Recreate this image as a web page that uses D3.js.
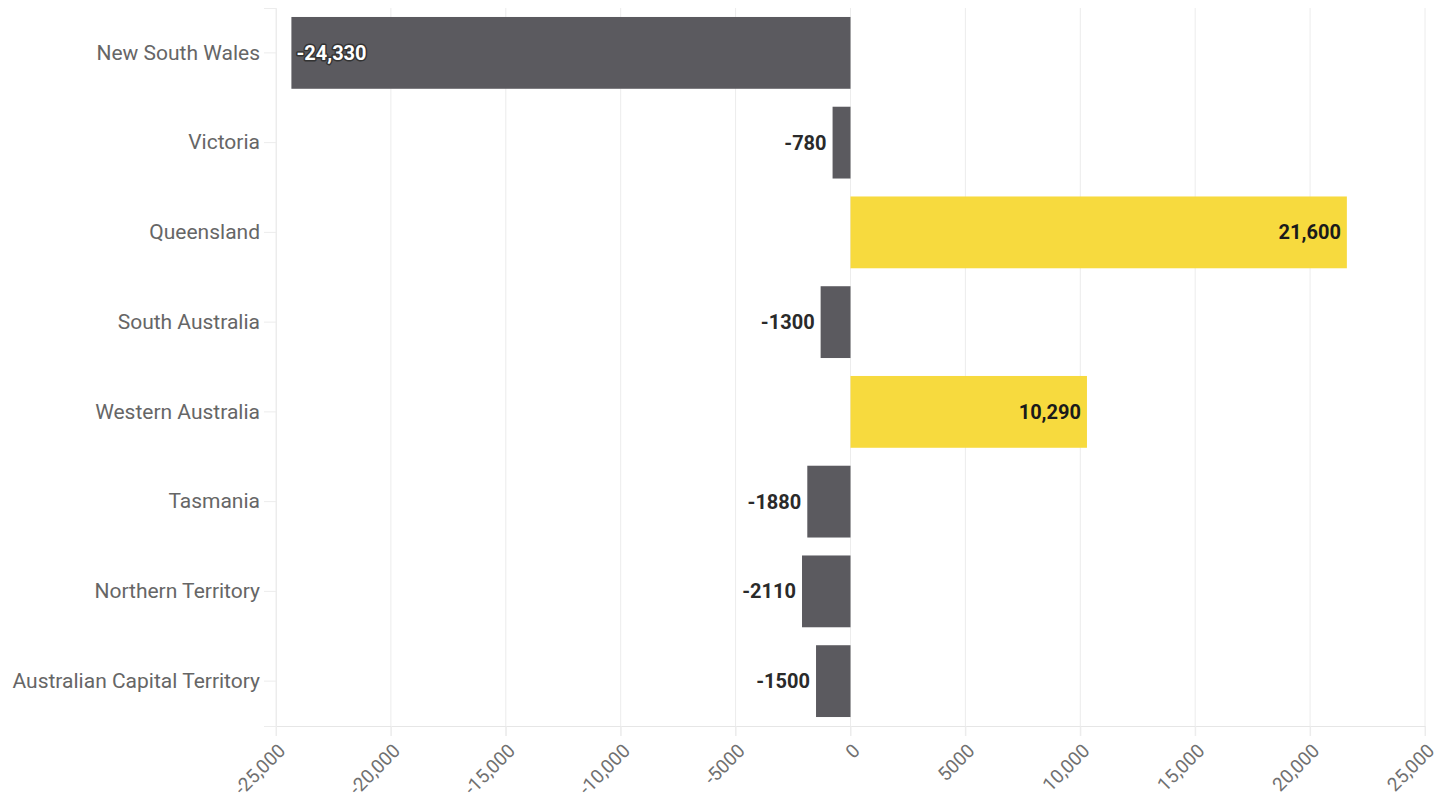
<!DOCTYPE html>
<html><head><meta charset="utf-8">
<script src="https://cdn.jsdelivr.net/npm/d3@7"></script>
<style>body{margin:0;background:#fff;}svg{display:block;}</style>
</head><body>
<script>
const categories = ["New South Wales","Victoria","Queensland","South Australia","Western Australia","Tasmania","Northern Territory","Australian Capital Territory"];
const values = [-24330, -780, 21600, -1300, 10290, -1880, -2110, -1500];
const xTicks = [-25000,-20000,-15000,-10000,-5000,0,5000,10000,15000,20000,25000];

const W = 1446, H = 800;
const margin = {left: 276, right: 21, top: 8, bottom: 74};
const svg = d3.select("body").append("svg").attr("width", W).attr("height", H);
const loc = d3.formatLocale({decimal: ".", thousands: ",", grouping: [3], currency: ["$", ""], minus: "-"});
const fmt = v => Math.abs(v) >= 10000 ? loc.format(",")(v) : loc.format("d")(v);

const x = d3.scaleLinear().domain([-25000, 25000]).range([margin.left, W - margin.right]);
const y = d3.scaleBand().domain(categories).range([margin.top, H - margin.bottom]).paddingInner(0.2).paddingOuter(0.1);
const font = "Roboto, 'Noto Sans', sans-serif";

// gridlines
svg.append("g").selectAll("line").data(xTicks).join("line")
  .attr("x1", d => x(d)).attr("x2", d => x(d))
  .attr("y1", margin.top).attr("y2", H - margin.bottom + 10)
  .attr("stroke", "#ececec").attr("stroke-width", 1);

// x axis
const xAxis = svg.append("g").attr("transform", `translate(0,${H - margin.bottom})`)
  .call(d3.axisBottom(x).tickValues(xTicks).tickFormat(fmt).tickSize(10));
xAxis.select(".domain").attr("stroke", "#e6e6e6");
xAxis.selectAll(".tick line").attr("stroke", "#ececec");
xAxis.selectAll("text")
  .attr("font-family", font).attr("font-size", 19).attr("fill", "#707070")
  .attr("text-anchor", "end").attr("dy", null).attr("y", null)
  .attr("transform", "translate(10,26) rotate(-45)");

// y axis
const yAxis = svg.append("g").attr("transform", `translate(${margin.left},0)`)
  .call(d3.axisLeft(y).tickSize(12).tickPadding(4));
yAxis.select(".domain").attr("stroke", "#ececec");
yAxis.selectAll(".tick line").attr("stroke", "#ececec");
yAxis.selectAll("text").attr("font-family", font).attr("font-size", 21).attr("fill", "#666");

const data = categories.map((c, i) => ({c, v: values[i]}));
const yellow = "#f7da3e", dark = "#5b5a5f";

svg.append("g").selectAll("rect").data(data).join("rect")
  .attr("x", d => x(Math.min(0, d.v)))
  .attr("width", d => Math.abs(x(d.v) - x(0)))
  .attr("y", d => y(d.c)).attr("height", y.bandwidth())
  .attr("fill", d => d.v > 0 ? yellow : dark);

// labels
svg.append("g").selectAll("text").data(data).join("text")
  .attr("font-family", font).attr("font-weight", 700).attr("font-size", 20)
  .attr("y", d => y(d.c) + y.bandwidth() / 2).attr("dy", "0.35em")
  .text(d => fmt(d.v))
  .each(function(d) {
    const t = d3.select(this);
    const inside = Math.abs(x(d.v) - x(0)) > 120;
    if (d.v > 0) {
      t.attr("x", x(d.v) - 6).attr("text-anchor", "end").attr("fill", "#1a1a1a");
    } else if (inside) {
      t.attr("x", x(d.v) + 5).attr("text-anchor", "start").attr("fill", "#fff")
       .attr("stroke", "#333").attr("stroke-width", 3).attr("paint-order", "stroke").attr("stroke-linejoin", "round");
    } else {
      t.attr("x", x(d.v) - 6).attr("text-anchor", "end").attr("fill", "#2a2a2a")
       .attr("stroke", "#fff").attr("stroke-width", 3).attr("paint-order", "stroke").attr("stroke-linejoin", "round");
    }
  });
</script>
</body></html>
